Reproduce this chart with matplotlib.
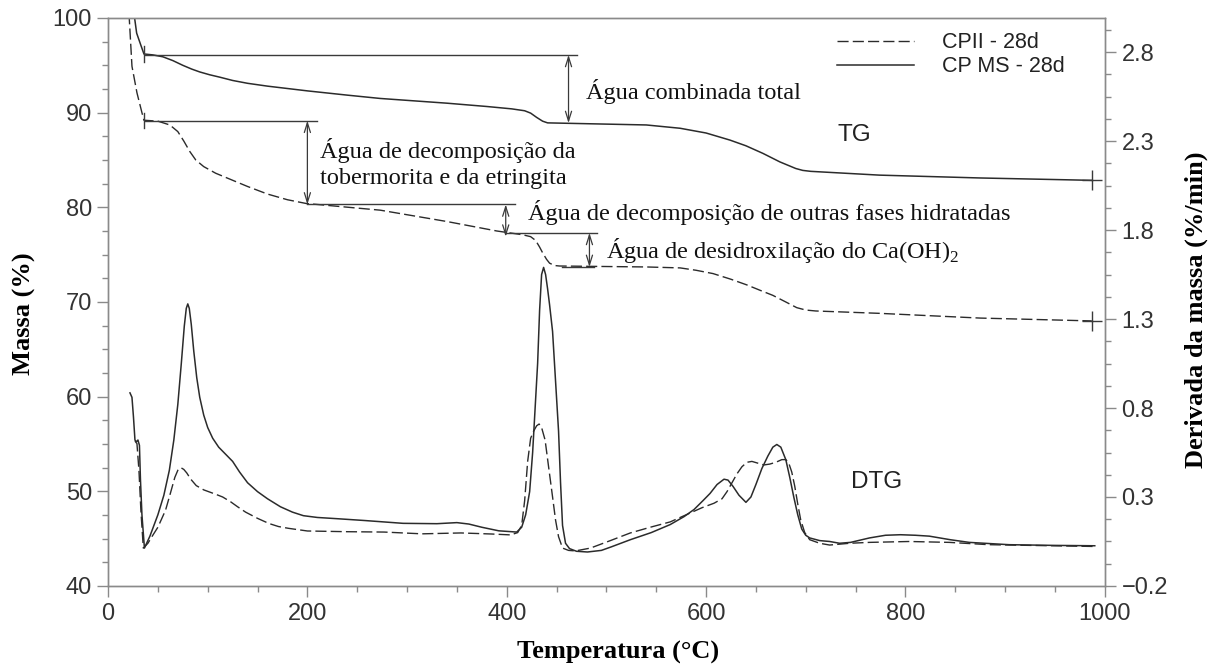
import numpy as np
import matplotlib
matplotlib.use("Agg")
import matplotlib.pyplot as plt
from matplotlib.ticker import FixedLocator, MultipleLocator

# ---- TG curves: temperature (°C) and residual mass (%) ----
tg_ms_temp = [26, 28.7, 32, 36, 45, 55, 65, 75, 84, 92, 102, 112, 125, 140, 160, 180,
              200, 240, 273, 340, 380, 405, 418, 424, 430, 436, 441, 450, 540, 574,
              600, 624, 640, 657, 674, 690, 697, 705, 774, 875, 965, 987]
tg_ms_mass = [100.5, 98.4, 97.4, 96.2, 96.1, 95.9, 95.5, 95.0, 94.6, 94.3, 94.0, 93.75,
              93.4, 93.1, 92.8, 92.55, 92.3, 91.85, 91.5, 91.0, 90.65, 90.4, 90.2, 89.95,
              89.5, 89.1, 88.92, 88.9, 88.7, 88.35, 87.85, 87.1, 86.5, 85.7, 84.8, 84.1,
              83.9, 83.8, 83.4, 83.1, 82.9, 82.85]

tg_cp2_temp = [21, 24, 29, 34, 36, 50, 62, 70, 76, 82, 88, 96, 108, 124, 140, 160, 180,
               199, 210, 273, 340, 390, 416, 424, 429, 433, 436, 440, 443, 448, 453, 540,
               574, 590, 607, 625, 641, 655, 667, 680, 691, 700, 710, 774, 875, 987]
tg_cp2_mass = [100.5, 94.9, 92.1, 90.0, 89.2, 89.1, 88.7, 88.0, 87.0, 85.9, 85.0, 84.3,
               83.6, 82.9, 82.2, 81.4, 80.8, 80.4, 80.3, 79.7, 78.5, 77.5, 77.1, 76.9,
               76.5, 75.8, 75.2, 74.5, 74.1, 73.85, 73.8, 73.7, 73.6, 73.35, 73.0, 72.4,
               71.8, 71.2, 70.7, 70.0, 69.4, 69.15, 69.05, 68.8, 68.3, 68.0]

# ---- DTG curves: temperature (°C) and mass derivative (%/min) ----
dtg_ms_temp = [22, 24, 25.5, 27, 28.5, 30, 31.5, 32.5, 34, 36.5, 42, 50, 56, 61.5, 66,
               70, 73.5, 76.5, 78.5, 80, 81.5, 83.5, 86, 89, 92, 96, 100, 105, 111, 118,
               125, 132, 140, 150, 160, 173, 185, 196, 210, 230, 257, 296, 330, 350, 362,
               375, 392, 410, 415, 419, 423, 426, 429, 431, 433, 435, 437, 439, 441, 443,
               446, 449, 452, 454, 456, 459, 463, 470, 481, 495, 505, 524, 545, 564, 578,
               588, 597, 604, 611, 618, 622, 627, 633, 640, 645, 650, 656, 662, 667, 671,
               675, 680, 684, 688, 692, 696, 700, 704, 714, 724, 734, 745, 764, 780, 795,
               810, 824, 845, 864, 904, 950, 990]
dtg_ms_rate = [0.885, 0.86, 0.75, 0.62, 0.61, 0.62, 0.59, 0.40, 0.20, 0.013, 0.08, 0.20,
               0.31, 0.45, 0.62, 0.82, 1.05, 1.26, 1.36, 1.385, 1.36, 1.27, 1.12, 0.97,
               0.86, 0.76, 0.69, 0.63, 0.58, 0.54, 0.50, 0.44, 0.38, 0.33, 0.29, 0.245,
               0.215, 0.195, 0.185, 0.178, 0.168, 0.152, 0.15, 0.156, 0.148, 0.13, 0.11,
               0.103, 0.13, 0.20, 0.33, 0.55, 0.85, 1.05, 1.35, 1.55, 1.59, 1.55, 1.47,
               1.38, 1.23, 0.95, 0.67, 0.38, 0.14, 0.04, 0.01, -0.005, -0.009, 0.0, 0.02,
               0.06, 0.10, 0.145, 0.19, 0.23, 0.28, 0.32, 0.37, 0.40, 0.395, 0.36, 0.31,
               0.27, 0.30, 0.37, 0.46, 0.53, 0.58, 0.595, 0.58, 0.51, 0.41, 0.30, 0.20,
               0.12, 0.085, 0.07, 0.055, 0.05, 0.04, 0.045, 0.07, 0.085, 0.088, 0.085,
               0.08, 0.06, 0.045, 0.032, 0.028, 0.026]

dtg_cp2_temp = [27, 29, 31, 33, 35.4, 40, 44, 50, 57.7, 62, 67, 70, 73, 76, 79, 83, 88.5,
                96, 107.7, 115, 123, 130, 138, 150, 161.5, 171, 181, 200, 240, 277, 315,
                354, 385, 404, 411, 415, 418, 421, 424, 427, 430, 432.5, 435, 438.5, 442,
                446, 449, 452, 456, 462, 469, 484, 504, 524, 544, 564, 580, 596, 608, 616,
                621, 626, 631, 636, 641, 646, 652, 658, 664, 670, 676, 680, 683, 686, 689,
                692, 695, 699, 704, 714, 724, 744, 764, 804, 844, 884, 990]
dtg_cp2_rate = [0.614, 0.60, 0.45, 0.22, 0.013, 0.04, 0.077, 0.13, 0.226, 0.31, 0.41,
                0.45, 0.465, 0.455, 0.435, 0.40, 0.364, 0.34, 0.316, 0.30, 0.273, 0.245,
                0.215, 0.18, 0.151, 0.134, 0.124, 0.109, 0.105, 0.103, 0.093, 0.098, 0.092,
                0.087, 0.10, 0.14, 0.28, 0.50, 0.63, 0.67, 0.70, 0.71, 0.69, 0.62, 0.47,
                0.30, 0.17, 0.077, 0.013, 0.0, -0.003, 0.013, 0.055, 0.098, 0.13, 0.16,
                0.20, 0.24, 0.265, 0.29, 0.33, 0.38, 0.43, 0.47, 0.495, 0.50, 0.49, 0.48,
                0.485, 0.495, 0.51, 0.51, 0.49, 0.44, 0.36, 0.26, 0.17, 0.10, 0.06, 0.04,
                0.03, 0.04, 0.045, 0.05, 0.045, 0.032, 0.022]

series_labels = ["CPII - 28d", "CP MS - 28d"]
right_tick_values = [-0.2, 0.3, 0.8, 1.3, 1.8, 2.3, 2.8]

# ---- mass-loss steps (°C, % levels) ----
step_total = dict(temp=462, top=96.1, bottom=88.9, line=(37, 471))
step_tob = dict(temp=200, top=89.15, bottom=80.3, line=(37, 210))
step_other = dict(temp=399, top=80.3, bottom=76.9, line=(200, 408))
step_ch = dict(temp=483, top=77.3, bottom=73.7, line=(398, 491))

txt_total = "Água combinada total"
txt_tob = "Água de decomposição da\ntobermorita e da etringita"
txt_other = "Água de decomposição de outras fases hidratadas"
txt_ch = r"Água de desidroxilação do Ca(OH)$_\mathregular{2}$"

# ---- figure ----
plt.rcParams["font.family"] = ["Liberation Sans", "DejaVu Sans"]
plt.rcParams["mathtext.fontset"] = "custom"
plt.rcParams["mathtext.rm"] = "Liberation Serif"

fig = plt.figure(figsize=(12.14, 6.71), dpi=100)
ax = fig.add_axes([0.089, 0.1267, 0.821, 0.8465])
ax2 = ax.twinx()

curve_c = "#2b2b2b"
mark_c = "#3a3a3a"
spine_c = "#8a8a8a"
dash = (0, (8, 3))

ax.plot(tg_cp2_temp, tg_cp2_mass, color=curve_c, lw=1.0, ls=dash, label=series_labels[0])
ax.plot(tg_ms_temp, tg_ms_mass, color=curve_c, lw=1.1, label=series_labels[1])
ax2.plot(dtg_cp2_temp, dtg_cp2_rate, color=curve_c, lw=1.0, ls=dash)
ax2.plot(dtg_ms_temp, dtg_ms_rate, color=curve_c, lw=1.1)

# end-of-run markers
ax.plot([tg_ms_temp[-1]], [tg_ms_mass[-1]], marker="+", ms=15, mew=1.0, color=mark_c)
ax.plot([tg_cp2_temp[-1]], [tg_cp2_mass[-1]], marker="+", ms=15, mew=1.0, color=mark_c)

# start-of-analysis marks
ax.plot([tg_ms_temp[3]] * 2, [tg_ms_mass[3] + 0.8, tg_ms_mass[3] - 0.8], color=mark_c, lw=1.0)
ax.plot([tg_cp2_temp[4]] * 2, [tg_cp2_mass[4] + 0.8, tg_cp2_mass[4] - 0.8], color=mark_c, lw=1.0)

# step brackets with double arrows
for st in (step_total, step_tob, step_other, step_ch):
    ax.plot(st["line"], [st["top"]] * 2, color=mark_c, lw=1.0)
    ax.annotate("", xy=(st["temp"], st["top"]), xytext=(st["temp"], st["bottom"]),
                arrowprops=dict(arrowstyle="<->,head_length=0.7,head_width=0.22",
                                color=mark_c, lw=0.9, shrinkA=0, shrinkB=0))
ax.plot([455, 488], [step_ch["bottom"]] * 2, color=mark_c, lw=1.0)

serif = ["Liberation Serif", "DejaVu Serif"]
note_kw = dict(family=serif, fontsize=17.5, va="center", ha="left", color="#111")
ax.text(480, 92.2, txt_total, **note_kw)
ax.text(213, 84.6, txt_tob, linespacing=1.3, **note_kw)
ax.text(421, 79.4, txt_other, **note_kw)
ax.text(500, 75.4, txt_ch, **note_kw)

ax.text(749, 87.6, "TG", fontsize=17.5, ha="center", va="center", color="#222")
ax.text(771, 51.0, "DTG", fontsize=17.5, ha="center", va="center", color="#222")

# axes ranges and ticks
ax.set_xlim(0, 1000)
ax.set_ylim(40, 100)
ax2.set_ylim(-0.2, -0.2 + 60 * 0.05319)

ax.xaxis.set_major_locator(MultipleLocator(200))
ax.xaxis.set_minor_locator(MultipleLocator(50))
ax.yaxis.set_major_locator(MultipleLocator(10))
ax.yaxis.set_minor_locator(MultipleLocator(2.5))
ax2.yaxis.set_major_locator(FixedLocator(right_tick_values))
ax2.yaxis.set_minor_locator(FixedLocator(np.arange(-0.2, 3.0, 0.125)))
ax2.set_yticklabels(["\u2212%.1f" % abs(v) if v < 0 else "%.1f" % v for v in right_tick_values])

for a in (ax, ax2):
    for s in a.spines.values():
        s.set_color(spine_c)
        s.set_linewidth(1.0)
    a.tick_params(which="major", length=8, width=1.0, color=spine_c, labelsize=17,
                  labelcolor="#333", direction="out")
    a.tick_params(which="minor", length=4, width=1.0, color=spine_c, direction="out")
ax.tick_params(axis="x", pad=4)
ax2.tick_params(axis="y", pad=4)

lab_font = dict(family=serif, fontsize=19, fontweight="bold", color="#000")
ax.set_xlabel("Temperatura (°C)", **lab_font)
ax.set_ylabel("Massa (%)", **lab_font)
ax2.set_ylabel("Derivada da massa (%/min)", **lab_font)
ax.xaxis.set_label_coords(0.512, -0.097)
ax.yaxis.set_label_coords(-0.072, 0.479)
ax2.yaxis.set_label_coords(1.080, 0.486)

leg = ax.legend(loc="upper left", bbox_to_anchor=(0.731, 0.975), frameon=False,
                fontsize=15.5, handlelength=3.6, handletextpad=1.3, borderpad=0,
                borderaxespad=0, labelspacing=0.15)
for t in leg.get_texts():
    t.set_color("#222")

fig.savefig("out.png", dpi=100)
